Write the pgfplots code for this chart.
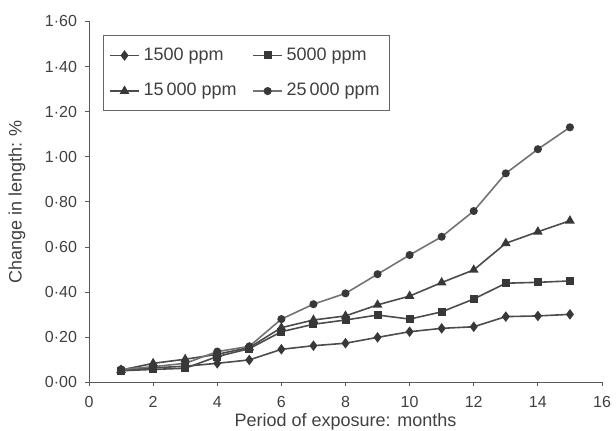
\documentclass[border=0pt]{standalone}
\usepackage{fontspec}
\setmainfont{Liberation Sans}
\usepackage{pgfplots}
\pgfplotsset{compat=1.18}
\definecolor{ln}{gray}{0.30}
\definecolor{mk}{gray}{0.22}
\definecolor{txt}{gray}{0.25}
\begin{document}
\begin{tikzpicture}
\useasboundingbox (-44.5pt,-24.25pt) rectangle (263.5pt,191.25pt);
\begin{axis}[
  at={(0,0)}, anchor=south west,
  scale only axis, width=256.5pt, height=180.5pt,
  xmin=0, xmax=16, ymin=0, ymax=1.6,
  axis lines*=left,
  axis line style={draw=black!65, line width=0.5pt},
  xtick={0,2,...,16},
  xticklabels={0,2,4,6,8,10,12,14,16},
  ytick={0,0.2,0.4,0.6,0.8,1.0,1.2,1.4,1.6},
  yticklabels={0·00,0·20,0·40,0·60,0·80,1·00,1·20,1·40,1·60},
  tick align=outside, major tick length=2pt,
  tick style={draw=black!65, line width=0.5pt},
  ticklabel style={font=\fontsize{8}{9.6}\selectfont, text=txt},
  xticklabel style={yshift=-1.5pt},
  yticklabel style={xshift=-0.5pt},
  xlabel={Period of exposure: months},
  ylabel={Change in length: \%},
  label style={font=\fontsize{9}{10.8}\selectfont, text=txt},
  xlabel style={at={(axis description cs:0.5,0)}, anchor=center, yshift=-19.5pt},
  ylabel style={at={(axis description cs:0,0.5)}, anchor=center, rotate=0, yshift=36pt},
  legend columns=2,
  legend style={at={(0.0273,0.962)}, anchor=north west,
    draw=black!60, line width=0.5pt, fill=white,
    font=\fontsize{9}{10.8}\selectfont, text=txt,
    inner xsep=3pt, inner ysep=4pt, row sep=6pt,
    /tikz/every even column/.append style={column sep=6pt}},
  legend cell align=left,
  legend image code/.code={\draw[mark repeat=2,mark phase=2] plot coordinates {(0cm,0cm) (0.25cm,0cm) (0.5cm,0cm)};},
  every axis plot/.append style={line width=0.8pt, draw=ln, mark size=1.6pt, mark options={fill=mk, draw=mk, solid}},
]
\addplot[mark=diamond*, mark size=2pt] coordinates {
(1,0.055)(2,0.065)(3,0.072)(4,0.085)(5,0.100)(6,0.147)(7,0.163)(8,0.174)(9,0.200)(10,0.225)(11,0.240)(12,0.247)(13,0.292)(14,0.295)(15,0.302)};
\addlegendentry{1500 ppm}
\addplot[mark=square*] coordinates {
(1,0.052)(2,0.058)(3,0.063)(4,0.115)(5,0.150)(6,0.225)(7,0.258)(8,0.277)(9,0.299)(10,0.281)(11,0.313)(12,0.370)(13,0.440)(14,0.444)(15,0.450)};
\addlegendentry{5000 ppm}
\addplot[mark=triangle*, mark size=2pt] coordinates {
(1,0.055)(2,0.085)(3,0.103)(4,0.125)(5,0.155)(6,0.243)(7,0.277)(8,0.295)(9,0.344)(10,0.383)(11,0.443)(12,0.499)(13,0.617)(14,0.668)(15,0.717)};
\addlegendentry{15\,000 ppm}
\addplot[mark=*, draw=black!55] coordinates {
(1,0.058)(2,0.070)(3,0.085)(4,0.137)(5,0.160)(6,0.281)(7,0.347)(8,0.395)(9,0.480)(10,0.565)(11,0.646)(12,0.760)(13,0.927)(14,1.034)(15,1.131)};
\addlegendentry{25\,000 ppm}
\end{axis}
\end{tikzpicture}
\end{document}
